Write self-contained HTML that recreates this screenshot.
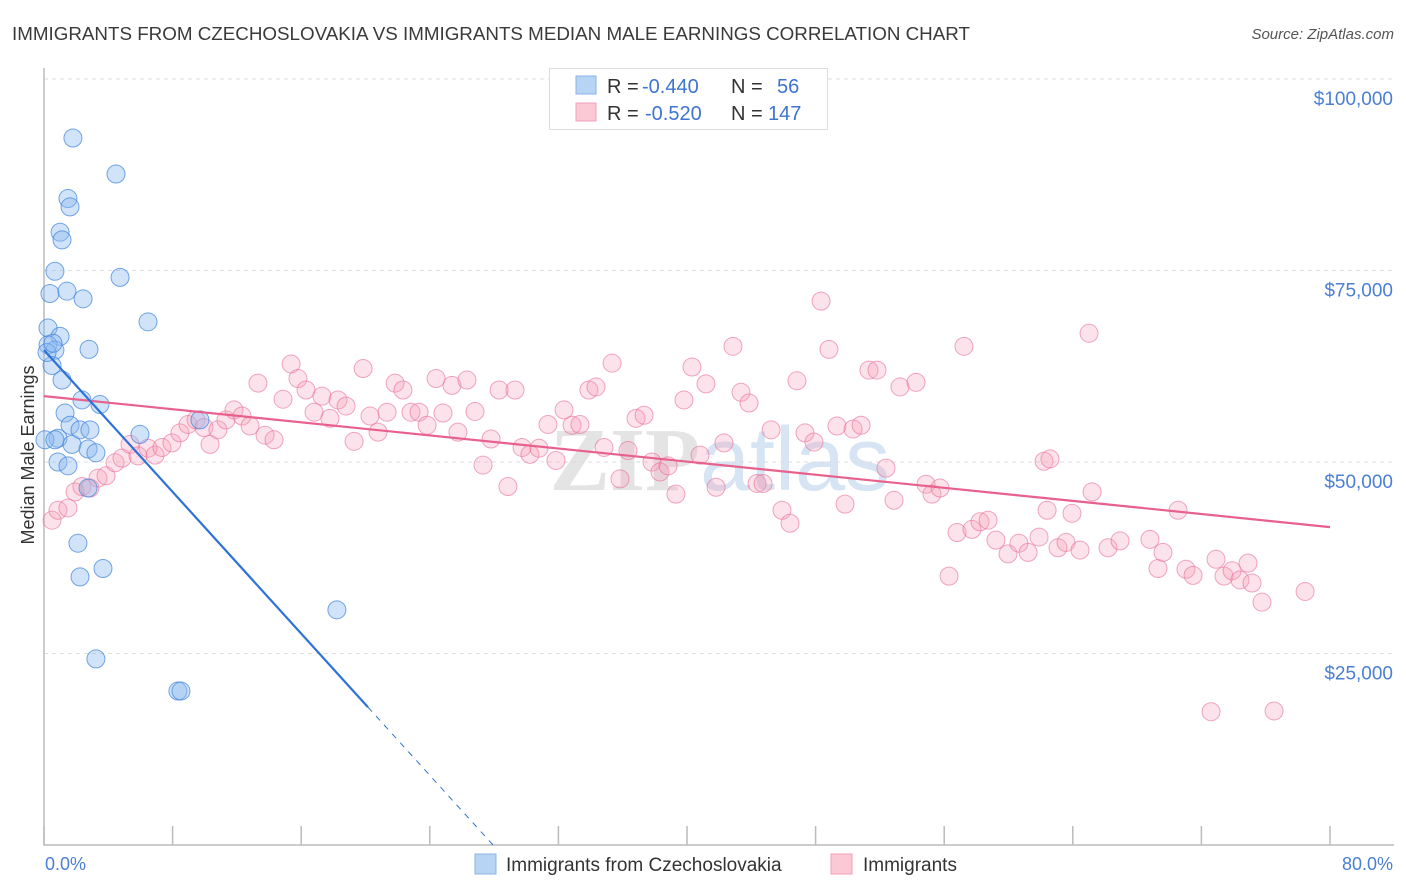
<!DOCTYPE html>
<html><head><meta charset="utf-8"><style>
body{margin:0;background:#fff;font-family:"Liberation Sans",sans-serif;}
#wrap{position:relative;width:1406px;height:892px;overflow:hidden;}
</style></head><body>
<div id="wrap">
<svg id="chart" width="1406" height="892" xmlns="http://www.w3.org/2000/svg">
<text x="12" y="40" font-size="18.8" fill="#3a3a3a">IMMIGRANTS FROM CZECHOSLOVAKIA VS IMMIGRANTS MEDIAN MALE EARNINGS CORRELATION CHART</text>
<text x="1394" y="39" font-size="15" fill="#555" font-style="italic" text-anchor="end">Source: ZipAtlas.com</text>
<text x="720" y="490" font-size="90" fill="#e4e4e4" text-anchor="middle" font-weight="bold" font-family="Liberation Serif,serif">ZIP<tspan fill="#d6e4f3" font-family="Liberation Sans,sans-serif" font-weight="normal">atlas</tspan></text>
<g id="grid"></g>
<g id="axes"></g>
<g id="pts"></g>
<g id="trend"></g>
<text transform="translate(34,455) rotate(-90)" font-size="18" fill="#333" text-anchor="middle">Median Male Earnings</text>
<text x="45" y="870" font-size="18" fill="#4a7fd4">0.0%</text>
<text x="1393" y="870" font-size="18" fill="#4a7fd4" text-anchor="end">80.0%</text>
<g>
<rect x="549.5" y="68.5" width="278" height="61" fill="#fff" stroke="#ddd"/>
<rect x="576" y="76" width="20" height="18" fill="#b8d4f5" stroke="#8ab4e8"/>
<rect x="576" y="103" width="20" height="18" fill="#fbc8d6" stroke="#f0a0b8"/>
<g font-size="20">
<text x="607" y="93" fill="#333">R =</text><text x="642" y="93" fill="#3f74d0">-0.440</text>
<text x="731" y="93" fill="#333">N =</text><text x="777" y="93" fill="#3f74d0">56</text></g>
<g font-size="20">
<text x="607" y="120" fill="#333">R =</text><text x="645" y="120" fill="#3f74d0">-0.520</text>
<text x="731" y="120" fill="#333">N =</text><text x="768" y="120" fill="#3f74d0">147</text></g>
</g>
<g>
<rect x="475" y="854" width="21" height="20" fill="#b8d4f5" stroke="#8ab4e8"/>
<text x="506" y="871" font-size="19" fill="#333">Immigrants from Czechoslovakia</text>
<rect x="831" y="854" width="21" height="20" fill="#fbc8d6" stroke="#f0a0b8"/>
<text x="863" y="871" font-size="19" fill="#333">Immigrants</text>
</g>
</svg>
</div>
<script>
const yTicks=[25000,50000,75000,100000];
const yTickLabels=["$25,000","$50,000","$75,000","$100,000"];
const xTicks=[0,8,16,24,32,40,48,56,64,72,80];
const blueX=[1.80,4.48,1.49,1.62,1.00,1.12,0.68,4.73,0.37,1.43,2.43,6.47,0.25,1.00,0.25,0.68,2.80,0.50,1.12,2.36,3.48,1.31,1.62,2.24,2.86,0.87,1.74,2.74,3.23,0.87,1.49,5.97,9.70,2.74,2.11,2.24,3.67,3.23,8.33,8.52,18.22,0.06,0.68,0.19,0.56];
const blueY=[92300,87600,84400,83300,80000,79000,74900,74100,72000,72300,71300,68300,67500,66400,65300,64600,64700,62600,60700,58100,57500,56400,54800,54200,54200,53100,52300,51700,51200,50000,49500,53600,55500,46600,39400,35000,36100,24300,20100,20100,30700,52900,52900,64300,65500];
const pinkX=[0.50,0.87,1.49,1.93,2.36,2.86,3.36,3.86,4.42,4.85,5.35,5.85,6.47,6.91,7.34,7.96,8.46,8.96,9.46,9.95,10.33,10.82,11.32,11.82,12.32,12.82,13.31,13.75,14.31,14.87,15.37,15.80,16.30,16.80,17.29,17.79,18.29,18.79,19.29,19.85,20.28,20.78,21.34,21.84,22.33,22.83,23.33,23.83,24.39,24.82,25.38,25.75,26.31,26.81,27.31,27.81,28.31,28.86,29.30,29.74,30.23,30.79,31.35,31.85,32.35,32.85,33.34,33.90,34.34,34.84,35.34,35.83,36.33,36.83,37.33,37.82,38.32,38.82,39.31,39.81,40.31,40.81,41.18,41.81,42.30,42.86,43.36,43.86,44.36,44.73,45.23,45.91,46.41,46.84,47.34,47.90,48.34,48.83,49.33,49.83,50.33,50.83,51.32,51.82,52.38,52.88,53.25,54.25,54.87,55.24,55.74,56.30,56.80,57.23,57.73,58.23,58.73,59.22,59.97,60.65,61.22,61.90,62.40,62.21,62.58,63.08,63.58,63.95,64.45,65.01,65.20,66.19,66.94,68.80,69.30,69.61,70.55,71.04,71.48,72.60,72.91,73.41,73.91,74.40,74.90,75.15,75.77,76.52,78.45];
const pinkY=[42400,43700,44000,46100,46800,46600,47900,48200,49900,50500,52300,50800,51800,50900,51900,52500,53800,54900,55500,54500,52300,54200,55500,56800,56000,54700,60300,53500,52900,58200,62800,60900,59400,56500,58600,55700,58100,57300,52700,62200,56000,53900,56500,60300,59400,56500,56500,54800,60900,56400,60000,53900,60700,56600,49600,53000,59400,46800,59400,51900,51000,51800,54900,50200,56800,54800,54900,59400,59800,51900,62900,47800,51500,55700,56100,50000,48700,49500,45800,58100,62400,50900,60200,46700,52500,65100,59100,57700,47200,47200,54200,43700,42000,60600,53800,52600,71000,64700,54700,44500,54300,54800,62000,62000,49200,45000,59800,60400,47100,45800,46600,35100,40800,65100,41200,42200,42400,39800,38000,39400,38200,40200,43700,50100,50400,38800,39500,43300,38500,66800,46100,38800,39700,39900,36100,38200,43700,36000,35200,17400,37300,35100,35800,34600,36800,34200,31700,17500,33100];
const pinkTrend=[58600,41500];
const blueTrend=[64600,18000];
const blueSolidEnd=20.15;

const NS="http://www.w3.org/2000/svg";
const X0=44,X1=1330,YB=845;
function sx(v){return X0+(v/80)*(X1-X0);}
function sy(v){return YB-v*(191.5/25000);}
function mk(t,a){const e=document.createElementNS(NS,t);for(const k in a)e.setAttribute(k,a[k]);return e;}
const grid=document.getElementById('grid'),axes=document.getElementById('axes'),pts=document.getElementById('pts'),trend=document.getElementById('trend');
yTicks.forEach((v,i)=>{
  const l=mk('line',{x1:X0,x2:1394,y1:sy(v),y2:sy(v),stroke:'#ddd','stroke-dasharray':'4,4'});
  
  
  grid.appendChild(l);
  const t=mk('text',{x:1393,y:sy(v)+26,'font-size':19,fill:'#4a7fd4','text-anchor':'end'});
  t.textContent=yTickLabels[i];
  
  
  grid.appendChild(t);
});
const ax=mk('path',{d:`M${X0} 68V${YB}H1394`,stroke:'#bbb',fill:'none','stroke-width':1.5});


axes.appendChild(ax);
xTicks.forEach(v=>{
  const l=mk('line',{x1:sx(v),x2:sx(v),y1:826,y2:YB,stroke:'#bbb','stroke-width':1.5});
  
  
  axes.appendChild(l);
});
pinkX.forEach((x,i)=>{
  const c=mk('circle',{cx:sx(x),cy:sy(pinkY[i]),r:9,fill:'rgba(245,160,185,0.3)',stroke:'rgba(232,110,150,0.6)','stroke-width':1});
  
  
  pts.appendChild(c);
});
blueX.forEach((x,i)=>{
  const c=mk('circle',{cx:sx(x),cy:sy(blueY[i]),r:9,fill:'rgba(140,185,240,0.4)',stroke:'rgba(60,130,220,0.7)','stroke-width':1});
  
  
  pts.appendChild(c);
});
const pl=mk('line',{x1:sx(0),y1:sy(pinkTrend[0]),x2:sx(80),y2:sy(pinkTrend[1]),stroke:'#e8608c','stroke-width':2.2});


trend.appendChild(pl);
const slope=(blueTrend[1]-blueTrend[0])/blueSolidEnd;
const bl=mk('line',{x1:sx(0),y1:sy(blueTrend[0]),x2:sx(blueSolidEnd),y2:sy(blueTrend[1]),stroke:'#2f72d6','stroke-width':2.2});


trend.appendChild(bl);
const xz=-blueTrend[0]/slope;
const bd=mk('line',{x1:sx(blueSolidEnd),y1:sy(blueTrend[1]),x2:sx(xz),y2:sy(0),stroke:'#2f72d6','stroke-width':1,'stroke-dasharray':'6,6'});


trend.appendChild(bd);
</script>
</body></html>
